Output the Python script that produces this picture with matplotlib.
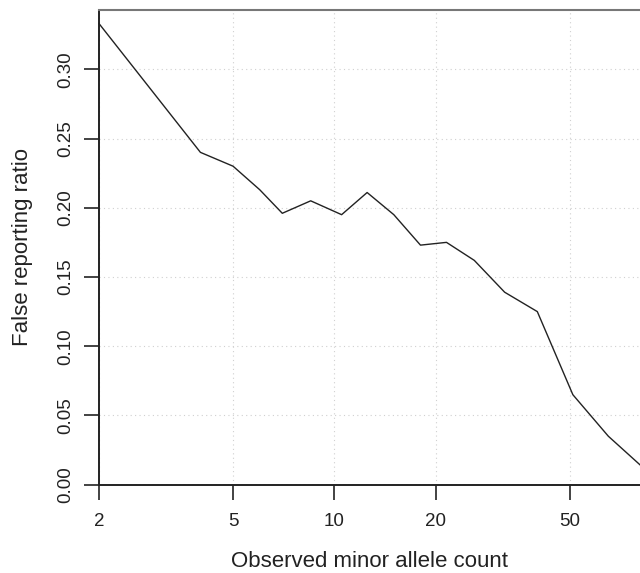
import matplotlib
matplotlib.use("Agg")
import matplotlib.pyplot as plt
from matplotlib.ticker import FixedLocator, NullLocator

plt.rcParams['font.family'] = ['Liberation Sans', 'DejaVu Sans']

# observed minor allele count (log axis) and false reporting ratio
allele_count = [2, 4, 5, 6, 7, 8.5, 10.5, 12.5, 15, 18, 21.5, 26, 32, 40, 51, 65, 81]
false_ratio = [0.333, 0.240, 0.230, 0.213, 0.196, 0.205, 0.195, 0.211, 0.195,
               0.173, 0.175, 0.162, 0.139, 0.125, 0.065, 0.035, 0.014]

x_ticks = [2, 5, 10, 20, 50]
y_ticks = [0.00, 0.05, 0.10, 0.15, 0.20, 0.25, 0.30]

fig = plt.figure(figsize=(6.4, 5.73), dpi=100)
ax = fig.add_axes([99 / 640, 1 - 484.7 / 573, 541 / 640, (484.7 - 10) / 573])

ax.plot(allele_count, false_ratio, color='#222222', linewidth=1.0, clip_on=False)

ax.set_xscale('log')
ax.set_xlim(2, 80.7)
ax.set_ylim(0, 0.3428)

ax.xaxis.set_major_locator(FixedLocator(x_ticks))
ax.xaxis.set_minor_locator(NullLocator())
ax.set_xticklabels([str(v) for v in x_ticks])
ax.yaxis.set_major_locator(FixedLocator(y_ticks))
ax.set_yticklabels(["%.2f" % v for v in y_ticks], rotation=90, va='center')

ax.grid(True, color='#d0d0d0', linestyle=(0, (1, 3)), linewidth=0.8)
ax.set_axisbelow(True)

ax.tick_params(axis='both', direction='out', length=11, width=1.2,
               labelsize=13.5, color='#222222', labelcolor='#222222')
ax.tick_params(axis='x', pad=9.5)
ax.tick_params(axis='y', pad=6.5)

ax.spines['left'].set_linewidth(1.4)
ax.spines['bottom'].set_linewidth(1.4)
ax.spines['left'].set_color('#222222')
ax.spines['bottom'].set_color('#222222')
ax.spines['top'].set_color('#777777')
ax.spines['top'].set_linewidth(1.5)
ax.spines['right'].set_visible(False)

ax.set_xlabel("Observed minor allele count", fontsize=16, color='#222222', va='baseline')
ax.set_ylabel("False reporting ratio", fontsize=16, color='#222222', va='baseline')
ax.xaxis.set_label_coords(0.5, -0.1734)
ax.yaxis.set_label_coords(-0.1312, 0.5)

plt.savefig("out.png", dpi=100)
